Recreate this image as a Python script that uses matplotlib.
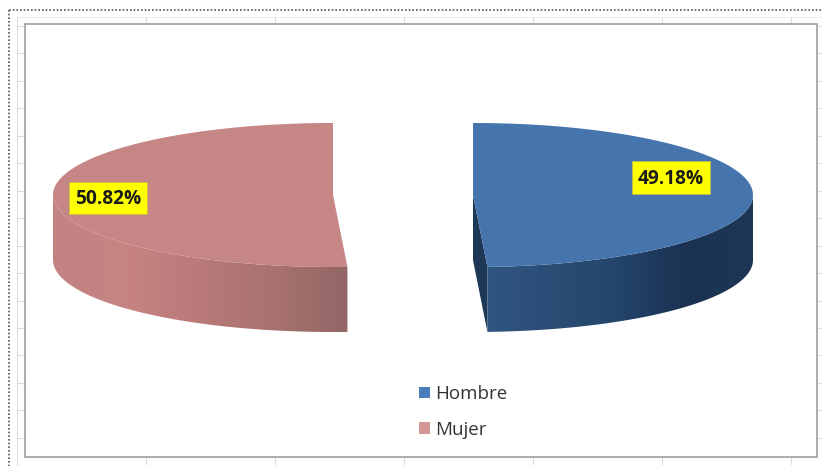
"""Exploded 3D style pie, Hombre / Mujer."""

import numpy as np
import matplotlib

matplotlib.use("Agg")
import matplotlib.pyplot as plt
from matplotlib.colors import LinearSegmentedColormap
from matplotlib.patches import Patch, Polygon, Rectangle

categories = ["Hombre", "Mujer"]
shares = [49.18, 50.82]
share_labels = ["49.18%", "50.82%"]


RX, RY = 280, 72
DEPTH = 65
CY = 195
CENTER_X = {"Hombre": 473, "Mujer": 333}
TOP_COLOR = {"Hombre": "#4675AD", "Mujer": "#C58685"}
LEGEND_COLOR = {"Hombre": "#4A7DBA", "Mujer": "#D39696"}
WALL_STOPS = {
    "Hombre": ["#30557F", "#2A4D76", "#24446A", "#1B3252", "#1E3756"],
    "Mujer": ["#C38382", "#C68382", "#B97A79", "#A87270", "#916665"],
}
LABEL_BOX = {"Hombre": (632, 161, 78, 33), "Mujer": (69, 182, 78, 32)}


def rim(cx, a0, a1, dy=0):
    # angles run clockwise from 12 o'clock
    t = np.radians(np.linspace(a0, a1, 200))
    return np.column_stack([cx + RX * np.sin(t), CY - RY * np.cos(t) + dy])


def draw_wall(ax, cx, a0, a1, stops):
    top = rim(cx, a0, a1)
    bottom = rim(cx, a0, a1, DEPTH)[::-1]
    poly = Polygon(np.vstack([top, bottom]), closed=True, facecolor="none", edgecolor="none")
    ax.add_patch(poly)
    xs = top[:, 0]
    cmap = LinearSegmentedColormap.from_list("wall", stops)
    grad = np.linspace(0, 1, 256).reshape(1, -1)
    im = ax.imshow(
        grad,
        cmap=cmap,
        aspect="auto",
        extent=(xs.min(), xs.max(), 340, 120),
        zorder=2,
    )
    im.set_clip_path(poly)


def draw_sheet(ax):
    # faint spreadsheet cell ticks around the chart frame
    for x in [146, 275, 404, 533, 662, 791]:
        ax.plot([x, x], [17, 24], color="#DDDDDD", lw=0.8, zorder=0)
        ax.plot([x, x], [457, 464], color="#DDDDDD", lw=0.8, zorder=0)
    for y in np.arange(26, 450, 27.45):
        ax.plot([17, 25], [y, y], color="#DDDDDD", lw=0.8, zorder=0)
        ax.plot([817, 822], [y, y], color="#DDDDDD", lw=0.8, zorder=0)
    ax.plot([17, 17], [17, 466], color="#DDDDDD", lw=0.8, zorder=0)
    ax.plot([17, 822], [17, 17], color="#EEEEEE", lw=0.8, zorder=0)

    dots = dict(color="#555555", lw=1.2, linestyle=(0, (1, 1.2)), zorder=1)
    ax.plot([9, 822], [10, 10], **dots)
    ax.plot([9, 9], [10, 466], **dots)
    ax.add_patch(Rectangle((25, 24), 792, 433, facecolor="white", edgecolor="#969696", lw=1.1, zorder=1))


def main():
    fig = plt.figure(figsize=(8.22, 4.66), dpi=100)
    ax = fig.add_axes([0, 0, 1, 1])
    draw_sheet(ax)

    cut = 360 * shares[0] / sum(shares)

    # Hombre runs from 12 o'clock to the cut, Mujer from the cut back round
    for name, a0, a1, wall0, wall1 in [
        ("Hombre", 0, cut, 90, cut),
        ("Mujer", cut, 360, cut, 270),
    ]:
        cx = CENTER_X[name]
        if name == "Hombre":
            end = rim(cx, cut, cut)[0]
            ax.add_patch(
                Polygon(
                    [(cx, CY), end, end + [0, DEPTH], (cx, CY + DEPTH)],
                    closed=True,
                    facecolor="#1D3757",
                    edgecolor="none",
                    zorder=2,
                )
            )
        draw_wall(ax, cx, min(wall0, wall1), max(wall0, wall1), WALL_STOPS[name])
        ax.add_patch(
            Polygon(
                np.vstack([[(cx, CY)], rim(cx, a0, a1)]),
                closed=True,
                facecolor=TOP_COLOR[name],
                edgecolor="none",
                zorder=3,
            )
        )

    for name, label in zip(categories, share_labels):
        x, y, w, h = LABEL_BOX[name]
        ax.add_patch(Rectangle((x, y), w, h, facecolor="#FFFF00", edgecolor="#C9B84A", lw=0.5, zorder=4))
        ax.text(
            x + w / 2,
            y + h / 2 + 1,
            label,
            ha="center",
            va="center",
            fontsize=13.8,
            fontweight="bold",
            family="Open Sans",
            color="#1A1A1A",
            zorder=5,
        )

    ax.legend(
        handles=[Patch(facecolor=LEGEND_COLOR[c], edgecolor="none", label=c) for c in categories],
        loc="upper left",
        bbox_to_anchor=(419 / 822, 1 - 385 / 466),
        frameon=False,
        prop={"family": "Open Sans", "size": 13.5},
        labelcolor="#333333",
        handlelength=0.58,
        handleheight=0.58,
        handletextpad=0.3,
        labelspacing=0.95,
        borderpad=0,
        borderaxespad=0,
    )

    ax.set_xlim(0, 822)
    ax.set_ylim(466, 0)
    ax.axis("off")
    fig.savefig("out.png", dpi=100)
    plt.close(fig)


if __name__ == "__main__":
    main()
